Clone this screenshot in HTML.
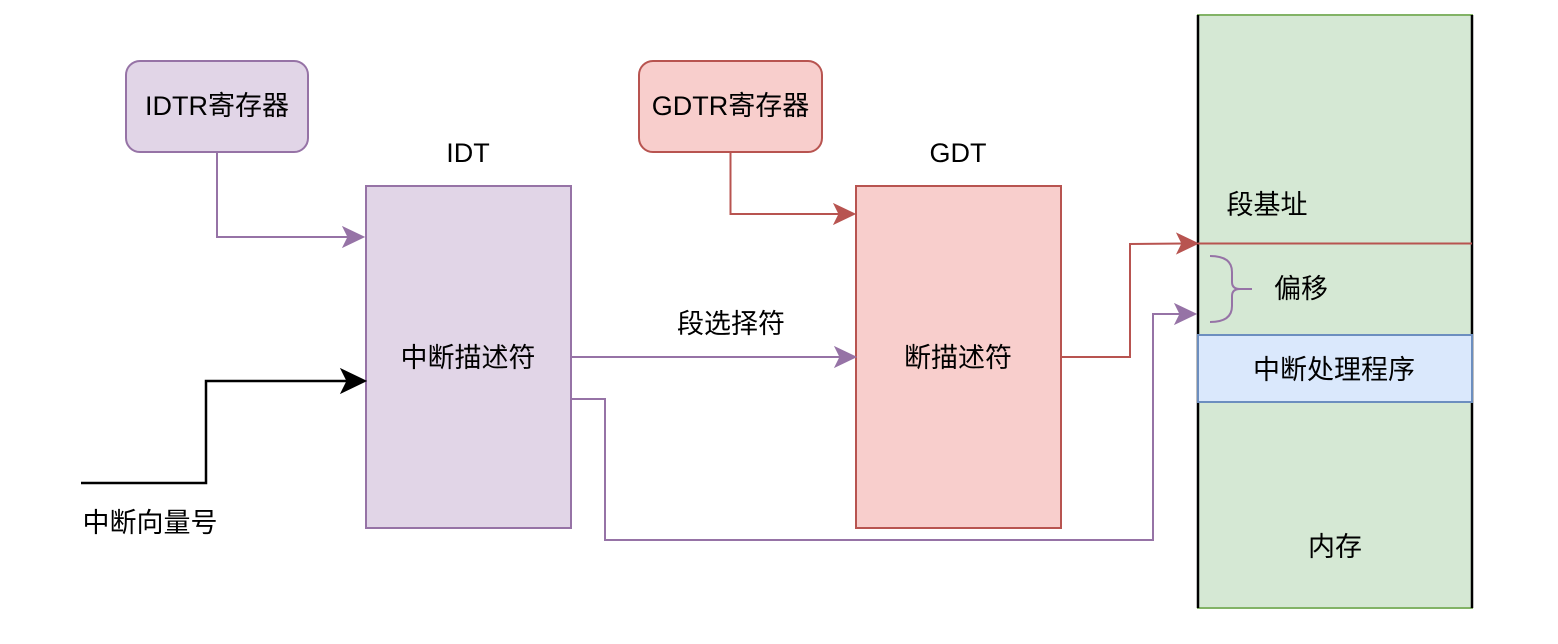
<!DOCTYPE html>
<html>
<head>
<meta charset="utf-8">
<style>
  html,body{margin:0;padding:0;background:#fff;}
  svg{display:block;}
  text{font-family:"Liberation Sans","Noto Sans CJK SC",sans-serif;font-size:27px;fill:#000;}
</style>
</head>
<body>
<svg width="1558" height="644" viewBox="0 0 1558 644" xmlns="http://www.w3.org/2000/svg">
  <rect x="0" y="0" width="1558" height="644" fill="#fff"/>

  <!-- Memory -->
  <rect x="1198" y="15" width="274" height="593" fill="#d5e8d4" stroke="#82b366" stroke-width="2"/>
  <line x1="1198" y1="15" x2="1198" y2="608" stroke="#000" stroke-width="2.5"/>
  <line x1="1472" y1="15" x2="1472" y2="608" stroke="#000" stroke-width="2.5"/>
  <rect x="1198" y="335" width="274" height="67" fill="#dae8fc" stroke="#6c8ebf" stroke-width="2"/>
  <line x1="1198" y1="243.5" x2="1472" y2="243.5" stroke="#b85450" stroke-width="2"/>

  <!-- brace -->
  <path d="M1210,256 Q1232,256 1232,272 L1232,282 Q1232,289 1240,289 L1252,289 M1240,289 Q1232,289 1232,296 L1232,306 Q1232,322 1210,322" fill="none" stroke="#9673a6" stroke-width="2"/>

  <!-- IDTR -->
  <rect x="126" y="61" width="182" height="91" rx="14" ry="14" fill="#e1d5e7" stroke="#9673a6" stroke-width="2"/>
  <!-- GDTR -->
  <rect x="639" y="61" width="183" height="91" rx="14" ry="14" fill="#f8cecc" stroke="#b85450" stroke-width="2"/>

  <!-- IDT -->
  <rect x="366" y="186" width="205" height="342" fill="#e1d5e7" stroke="#9673a6" stroke-width="2"/>
  <!-- GDT -->
  <rect x="856" y="186" width="205" height="342" fill="#f8cecc" stroke="#b85450" stroke-width="2"/>

  <!-- connectors -->
  <!-- IDTR -> IDT -->
  <polyline points="217,152 217,237 350,237" fill="none" stroke="#9673a6" stroke-width="2"/>
  <path d="M364,237 L343,227 L348,237 L343,247 Z" fill="#9673a6" stroke="#9673a6" stroke-width="1"/>

  <!-- GDTR -> GDT -->
  <polyline points="730.5,152 730.5,214 842,214" fill="none" stroke="#b85450" stroke-width="2"/>
  <path d="M855,214 L834,204 L839,214 L834,224 Z" fill="#b85450" stroke="#b85450" stroke-width="1"/>

  <!-- black vector input -->
  <polyline points="81,483 206,483 206,381 350,381" fill="none" stroke="#000" stroke-width="2.5"/>
  <path d="M366,381 L341,369 L347,381 L341,393 Z" fill="#000" stroke="#000" stroke-width="1"/>

  <!-- IDT -> GDT selector -->
  <line x1="571" y1="357" x2="842" y2="357" stroke="#9673a6" stroke-width="2"/>
  <path d="M856,357 L835,347 L840,357 L835,367 Z" fill="#9673a6" stroke="#9673a6" stroke-width="1"/>

  <!-- GDT -> segment base -->
  <polyline points="1061,357 1130,357 1130,244 1184,243.5" fill="none" stroke="#b85450" stroke-width="2"/>
  <path d="M1198,243.5 L1177,233.5 L1182,243.5 L1177,253.5 Z" fill="#b85450" stroke="#b85450" stroke-width="1"/>

  <!-- IDT -> offset -->
  <polyline points="571,399 605,399 605,540 1153,540 1153,314 1182,314" fill="none" stroke="#9673a6" stroke-width="2"/>
  <path d="M1196,314 L1175,304 L1180,314 L1175,324 Z" fill="#9673a6" stroke="#9673a6" stroke-width="1"/>

  <!-- labels -->
  <text x="217" y="106" text-anchor="middle" dominant-baseline="central">IDTR寄存器</text>
  <text x="730.5" y="106" text-anchor="middle" dominant-baseline="central">GDTR寄存器</text>
  <text x="468" y="153" text-anchor="middle" dominant-baseline="central">IDT</text>
  <text x="958" y="153" text-anchor="middle" dominant-baseline="central">GDT</text>
  <text x="468" y="358" text-anchor="middle" dominant-baseline="central">中断描述符</text>
  <text x="958" y="358" text-anchor="middle" dominant-baseline="central">断描述符</text>
  <text x="731" y="324" text-anchor="middle" dominant-baseline="central">段选择符</text>
  <text x="150" y="523" text-anchor="middle" dominant-baseline="central">中断向量号</text>
  <text x="1267" y="205" text-anchor="middle" dominant-baseline="central">段基址</text>
  <text x="1301" y="289" text-anchor="middle" dominant-baseline="central">偏移</text>
  <text x="1334" y="370" text-anchor="middle" dominant-baseline="central">中断处理程序</text>
  <text x="1335" y="547" text-anchor="middle" dominant-baseline="central">内存</text>
</svg>
</body>
</html>
